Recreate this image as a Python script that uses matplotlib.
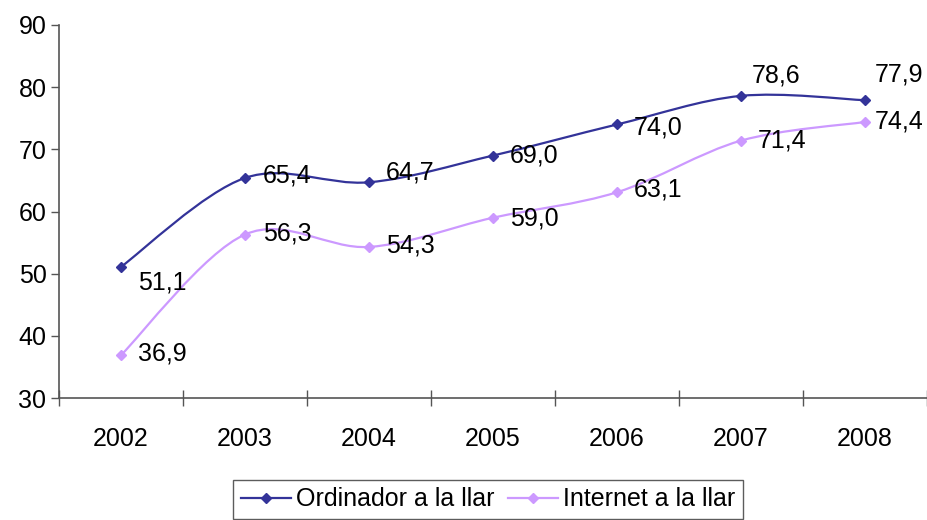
import numpy as np
import matplotlib

matplotlib.use("Agg")
import matplotlib.pyplot as plt
from matplotlib.path import Path
from matplotlib.patches import PathPatch
from matplotlib.lines import Line2D

plt.rcParams["font.family"] = ["Liberation Sans", "DejaVu Sans"]

years = ["2002", "2003", "2004", "2005", "2006", "2007", "2008"]
ordinador = [51.1, 65.4, 64.7, 69.0, 74.0, 78.6, 77.9]
internet = [36.9, 56.3, 54.3, 59.0, 63.1, 71.4, 74.4]

# label offsets in pixels (dx, dy)
ord_offsets = [(17, -16), (18, 2), (17, 10), (17, 0), (17, -3), (11, 20), (10, 26)]
int_offsets = [(17, 2), (18, 1), (17, 1), (17, -1), (17, 3), (17, 0), (10, 0)]

BLUE = "#333399"
LILAC = "#CC99FF"
FS = 18


def smooth_path(xs, ys):
    """Excel-style smoothed line: cubic Bezier through the points (Catmull-Rom, 1/6)."""
    pts = np.column_stack([xs, ys]).astype(float)
    n = len(pts)
    verts = [pts[0]]
    codes = [Path.MOVETO]
    for i in range(n - 1):
        p0 = pts[max(i - 1, 0)]
        p1 = pts[i]
        p2 = pts[i + 1]
        p3 = pts[min(i + 2, n - 1)]
        c1 = p1 + (p2 - p0) / 6.0
        c2 = p2 - (p3 - p1) / 6.0
        verts += [c1, c2, p2]
        codes += [Path.CURVE4] * 3
    return Path(verts, codes)


fig = plt.figure(figsize=(9.28, 5.2), dpi=100, facecolor="white")
ax = fig.add_axes([59 / 928, 1 - 398 / 520, 868 / 928, 373 / 520])

x = np.arange(len(years))
for vals, col, offs in [(ordinador, BLUE, ord_offsets), (internet, LILAC, int_offsets)]:
    ax.add_patch(PathPatch(smooth_path(x, vals), facecolor="none", edgecolor=col, lw=1.6))
    ax.plot(x, vals, ls="none", color=col, marker="D", ms=5.5, markeredgecolor=col)
    for xi, v, (dx, dy) in zip(x, vals, offs):
        ax.annotate(f"{v:.1f}".replace(".", ","), xy=(xi, v), xytext=(dx * 0.72, dy * 0.72),
                    textcoords="offset points", ha="left", va="center", fontsize=FS)

ax.set_xlim(-0.5, len(years) - 0.5)
ax.set_ylim(30, 90)
ax.set_yticks(range(30, 91, 10))
ax.set_xticks(x)
ax.set_xticklabels(years)
ax.set_xticks(np.arange(-0.5, len(years)), minor=True)
ax.tick_params(axis="x", which="major", length=0, pad=21, labelsize=FS)
ax.tick_params(axis="x", which="minor", length=11, direction="inout", width=1, color="#555555")
ax.tick_params(axis="y", length=6, width=1, color="#555555", labelsize=FS, pad=3)
for s in ["top", "right"]:
    ax.spines[s].set_visible(False)
for s in ["left", "bottom"]:
    ax.spines[s].set_color("#555555")
    ax.spines[s].set_linewidth(1.2)

handles = [Line2D([], [], color=BLUE, lw=1.6, marker="D", ms=5),
           Line2D([], [], color=LILAC, lw=1.6, marker="D", ms=5)]
leg = fig.legend(handles, ["Ordinador a la llar", "Internet a la llar"],
                 loc="upper left", bbox_to_anchor=(233 / 928, 1 - 480 / 520),
                 ncol=2, fontsize=FS, frameon=True, fancybox=False,
                 borderaxespad=0, borderpad=0.3, handlelength=2.0, handletextpad=0.2,
                 columnspacing=0.55, edgecolor="#333333")
leg.get_frame().set_linewidth(1.0)

fig.savefig("out.png", dpi=100, facecolor="white")
